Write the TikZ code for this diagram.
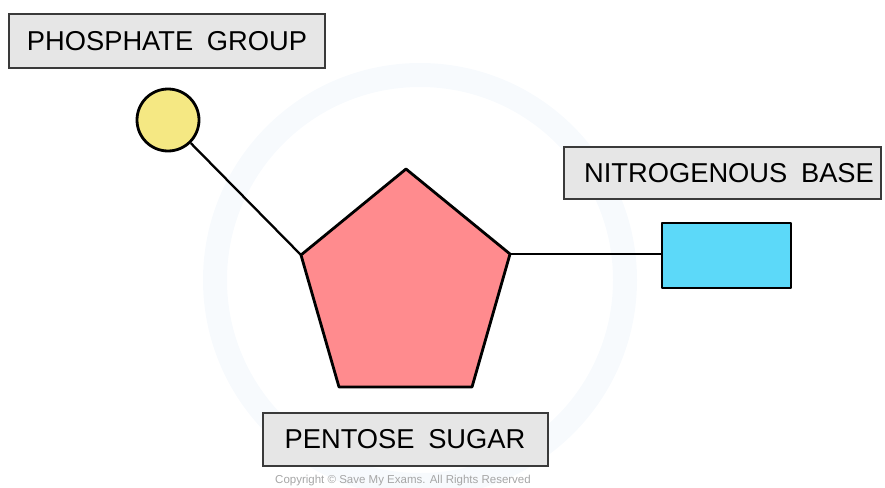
\documentclass[tikz,border=0pt]{standalone}
\usepackage{fontspec}
\setmainfont{Liberation Sans}
\definecolor{boxgray}{HTML}{E6E6E6}
\definecolor{boxline}{HTML}{3A3A3A}
\definecolor{pinkfill}{HTML}{FF8B8E}
\definecolor{yellowfill}{HTML}{F5E883}
\definecolor{bluefill}{HTML}{5CD9F9}
\definecolor{wm}{HTML}{F7FAFD}
\begin{document}
\begin{tikzpicture}[x=1pt,y=-1pt,
  labelbox/.style={draw=boxline,fill=boxgray,line width=1.3pt},
  labeltext/.style={inner sep=0pt,font=\fontsize{27.3}{31}\selectfont},
  shapeline/.style={draw=black,line width=2.8pt,line join=round},
  conn/.style={draw=black,line width=2.3pt}]
\useasboundingbox (0,0) rectangle (885,487);
% faint watermark
\draw[wm,line width=24pt] (420,280) circle[radius=205];
% label boxes
\node[labelbox,minimum width=316pt,minimum height=54pt,inner sep=0pt] (pbox) at (167,41) {};
\node[labeltext] (ptext) at (167,41) {PHOSPHATE\hspace{0.5em}GROUP};
\node[labelbox,minimum width=317pt,minimum height=52pt,inner sep=0pt] (nbox) at (722.5,173) {};
\node[labeltext] (ntext) at (729,173) {NITROGENOUS\hspace{0.5em}BASE};
\node[labelbox,minimum width=285pt,minimum height=53pt,inner sep=0pt] (sbox) at (405.5,439.5) {};
\node[labeltext] (stext) at (405,439.5) {PENTOSE\hspace{0.5em}SUGAR};
% coordinates of pentagon
\coordinate (top) at (406,169);
\coordinate (lv) at (301,255);
\coordinate (rv) at (510,254);
\coordinate (br) at (472,387);
\coordinate (bl) at (339,387);
% phosphate circle
\node[shapeline,fill=yellowfill,circle,minimum size=62pt,inner sep=0pt] (phos) at (168,120) {};
% base rectangle
\node[shapeline,fill=bluefill,minimum width=129pt,minimum height=65pt,inner sep=0pt] (base) at (726.5,255.5) {};
% connectors
\draw[conn] (phos) -- (lv);
\draw[conn] (rv) -- (base.west |- rv);
% pentagon
\filldraw[shapeline,fill=pinkfill] (top) -- (rv) -- (br) -- (bl) -- (lv) -- cycle;
% copyright
\node[text=gray!70,font=\fontsize{11.5}{13}\selectfont,inner sep=0pt] (copy) at (403,481) {Copyright © Save My Exams. All Rights Reserved};
\end{tikzpicture}
\end{document}
